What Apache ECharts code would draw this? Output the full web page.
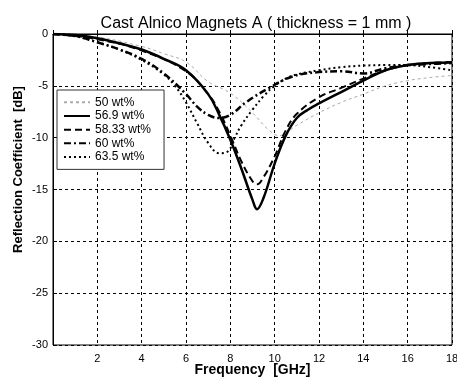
<!DOCTYPE html>
<html>
<head>
  <title>Cast Alnico Magnets A</title>
  <script src="https://cdn.jsdelivr.net/npm/echarts@6/dist/echarts.min.js"></script>
</head>
<body style="margin:0">
  <div id="main" style="width: 457px; height: 380px;"></div>

  <script>
    // values
    const names = ['50 wt%', '56.9 wt%', '58.33 wt%', '60 wt%', '63.5 wt%'];

    const f50 = [0, 2, 4, 5, 6, 7, 8, 9, 9.75, 10.2, 11, 12, 13, 14, 15, 16, 17, 18];
    const r50 = [0, -0.3, -1.2, -1.9, -2.7, -4.6, -5.7, -7.6, -9.3, -9.8, -8.8, -7.6, -6.6, -5.8, -5.0, -4.5, -4.2, -4.0];

    const f569 = [0, 1, 2, 3, 4, 5, 6, 7, 7.5, 8, 8.5, 9, 9.2, 9.5, 10, 10.5, 11, 11.5, 12, 13, 14, 15, 16, 17, 18];
    const r569 = [0, -0.1, -0.4, -0.9, -1.5, -2.4, -3.5, -5.8, -7.8, -10.2, -13, -16, -16.9, -15.8, -12.5, -9.8, -8.1, -7.3, -6.7, -5.6, -4.5, -3.5, -3.0, -2.8, -2.75];

    const f5833 = [0, 2, 4, 6, 7, 7.5, 8, 8.5, 9, 9.2, 9.5, 10, 10.5, 11, 12, 13, 14, 15, 16, 17, 18];
    const r5833 = [0, -0.5, -1.6, -3.6, -5.8, -7.5, -9.8, -12.3, -14.2, -14.5, -13.8, -11.8, -9.3, -7.7, -6.1, -5.2, -4.3, -3.5, -3.0, -2.8, -2.7];

    const f60 = [0, 1, 2, 3, 4, 5, 6, 6.5, 7, 7.5, 8, 8.7, 9.75, 10.8, 11.9, 13, 14, 15, 16, 17, 18];
    const r60 = [0, -0.2, -0.8, -1.5, -2.4, -3.8, -5.8, -7.0, -7.8, -8.1, -7.8, -6.6, -5.2, -4.1, -3.7, -3.6, -3.8, -3.3, -3.0, -2.9, -2.8];

    const f635 = [0, 1, 2, 3, 4, 5, 5.5, 6, 6.5, 7, 7.5, 7.9, 8.2, 8.5, 9, 9.5, 10, 10.5, 11, 12, 13, 14, 15, 16, 17, 18];
    const r635 = [0, -0.2, -0.8, -1.5, -2.5, -3.9, -5, -6.6, -8.6, -10.5, -11.5, -11.3, -10, -8.8, -7.3, -6, -5, -4.3, -3.9, -3.5, -3.2, -3.05, -3.0, -3.0, -3.2, -3.5];

    const xTicks = [2, 4, 6, 8, 10, 12, 14, 16, 18];

    function pairs(xs, ys) {
      return xs.map((x, i) => [x, ys[i]]);
    }

    const font = 'Arial, "Liberation Sans", sans-serif';
    const chart = echarts.init(document.getElementById('main'));
    const option = {
      animation: false,
      backgroundColor: '#fff',
      title: {
        text: 'Cast Alnico Magnets A ( thickness = 1 mm )',
        left: 251, top: 5, textAlign: 'center',
        textStyle: { fontFamily: font, fontSize: 16, fontWeight: 'normal', color: '#000' }
      },
      grid: {
        left: 53, right: 5, top: 34, bottom: 35, outerBoundsMode: 'none',
        show: true, borderColor: '#000', borderWidth: 1
      },
      legend: {
        orient: 'vertical', left: 57, top: 90,
        data: names,
        itemWidth: 26, itemHeight: 10, itemGap: -7,
        padding: [2, 13, 2, 6],
        itemStyle: { opacity: 0 },
        borderColor: '#333', borderWidth: 1, backgroundColor: '#fff',
        textStyle: { fontFamily: font, fontSize: 12, color: '#000' }
      },
      xAxis: {
        type: 'value', min: 0, max: 18, interval: 2,
        name: 'Frequency  [GHz]', nameLocation: 'middle', nameGap: 13, nameMoveOverlap: false,
        nameTextStyle: { fontFamily: font, fontSize: 14, fontWeight: 'bold', color: '#000' },
        axisLine: { lineStyle: { color: '#000' } },
        axisTick: { inside: true, length: 4, lineStyle: { color: '#000' } },
        axisLabel: {
          fontFamily: font, fontSize: 11, color: '#000', margin: 4,
          formatter: v => xTicks.includes(v) ? String(v) : ''
        },
        splitLine: { lineStyle: { color: '#000', type: [3, 3], width: 1 } }
      },
      yAxis: {
        type: 'value', min: -30, max: 0, interval: 5,
        name: 'Reflection Coefficient  [dB]', nameLocation: 'middle', nameGap: 23, nameMoveOverlap: false,
        nameTextStyle: { fontFamily: font, fontSize: 13, fontWeight: 'bold', color: '#000', padding: [0, 0, 0, 40] },
        axisLine: { show: true, lineStyle: { color: '#000' } },
        axisTick: { show: true, inside: true, length: 4, lineStyle: { color: '#000' } },
        axisLabel: { fontFamily: font, fontSize: 11, color: '#000', margin: 5 },
        splitLine: { lineStyle: { color: '#000', type: [3, 3], width: 1 } }
      },
      series: [
        { name: names[0], type: 'line', smooth: 0.4, symbol: 'none', data: pairs(f50, r50),
          lineStyle: { color: '#aaa', width: 1, type: [3, 3] }, itemStyle: { color: '#aaa' } },
        { name: names[1], type: 'line', smooth: 0.4, symbol: 'none', data: pairs(f569, r569),
          lineStyle: { color: '#000', width: 2.5, type: 'solid' }, itemStyle: { color: '#000' } },
        { name: names[2], type: 'line', smooth: 0.4, symbol: 'none', data: pairs(f5833, r5833),
          lineStyle: { color: '#000', width: 2, type: [7, 4] }, itemStyle: { color: '#000' } },
        { name: names[3], type: 'line', smooth: 0.4, symbol: 'none', data: pairs(f60, r60),
          lineStyle: { color: '#000', width: 2.5, type: [7, 3, 2, 3] }, itemStyle: { color: '#000' } },
        { name: names[4], type: 'line', smooth: 0.4, symbol: 'none', data: pairs(f635, r635),
          lineStyle: { color: '#000', width: 2, type: [2, 3] }, itemStyle: { color: '#000' } }
      ]
    };
    chart.setOption(option);
  </script>
</body>
</html>
